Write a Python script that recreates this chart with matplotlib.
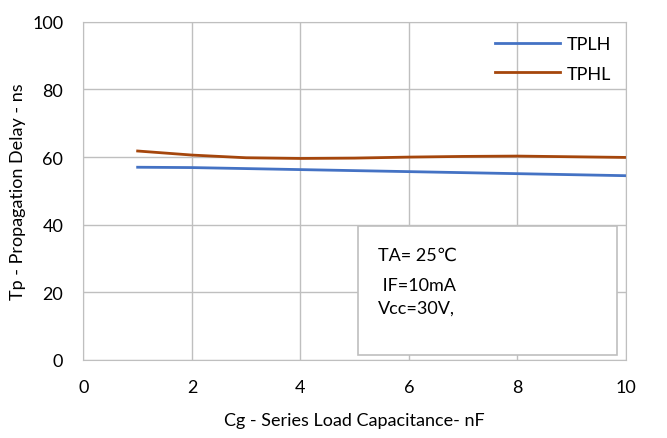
import matplotlib.pyplot as plt

plt.rcParams['font.family'] = ['Lato', 'DejaVu Sans']

cg = [1, 2, 3, 4, 5, 6, 7, 8, 9, 10]
tplh = [57.0, 56.9, 56.6, 56.3, 56.0, 55.7, 55.4, 55.1, 54.8, 54.5]
tphl = [61.8, 60.6, 59.8, 59.6, 59.7, 60.0, 60.2, 60.3, 60.1, 59.9]

fig = plt.figure(figsize=(6.67, 4.39), dpi=100)
ax = fig.add_axes([0.125, 0.1777, 0.8135, 0.7703])

ax.plot(cg, tplh, color='#4472C4', lw=2, label='TPLH')
ax.plot(cg, tphl, color='#A5460C', lw=2, label='TPHL')

ax.set_xlim(0, 10)
ax.set_ylim(0, 100)
ax.set_xticks(range(0, 11, 2))
ax.set_yticks(range(0, 101, 20))
ax.tick_params(length=0, labelsize=13, colors='black')
ax.tick_params(axis='x', pad=14)
ax.tick_params(axis='y', pad=14.5)
ax.grid(True, color='#BFBFBF', lw=1)
ax.set_axisbelow(True)
for s in ax.spines.values():
    s.set_color('#BFBFBF')

ax.set_xlabel('Cg - Series Load Capacitance- nF', fontsize=13)
ax.set_ylabel('Tp - Propagation Delay - ns', fontsize=13)
ax.xaxis.set_label_coords(0.5, -0.155)
ax.yaxis.set_label_coords(-0.106, 0.5)

leg = ax.legend(loc='upper right', frameon=False, fontsize=13, handlelength=3.6,
                borderaxespad=0.4, labelspacing=0.75, handletextpad=0.4)

# condition box
box = plt.Rectangle((5.06, 1.5), 4.77, 38.2, facecolor='white', edgecolor='#BFBFBF',
                    lw=1.2, transform=ax.transData, zorder=3)
ax.add_patch(box)
ax.text(5.43, 31.1, 'TA= 25\u2103', fontsize=13, va='center', zorder=4)
ax.text(5.43, 22.3, ' IF=10mA', fontsize=13, va='center', zorder=4)
ax.text(5.43, 15.6, 'Vcc=30V,', fontsize=13, va='center', zorder=4)

fig.savefig('out.png', dpi=100)
